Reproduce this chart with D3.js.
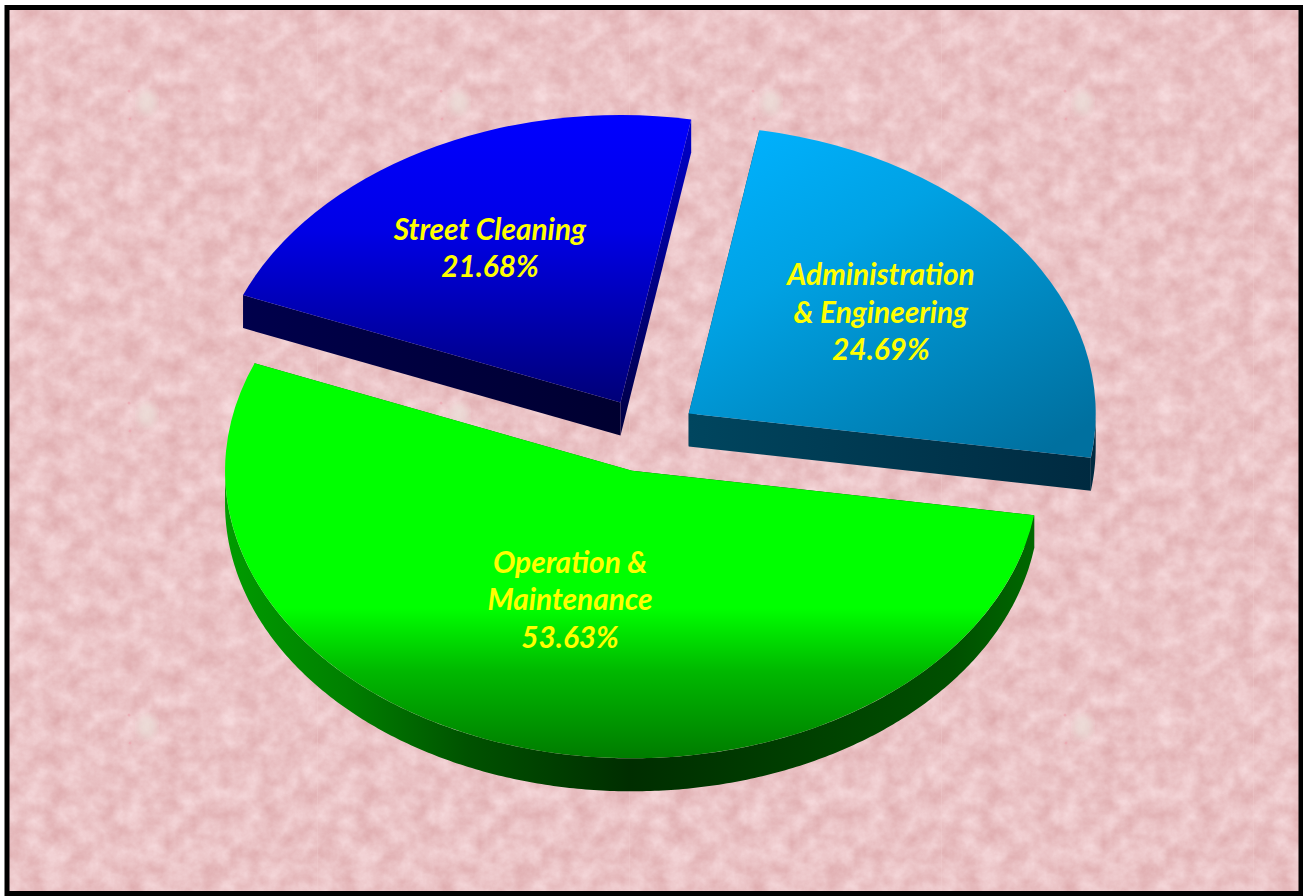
<!DOCTYPE html>
<html>
<head>
<meta charset="utf-8">
<title>Expenditure shares</title>
<script src="https://cdn.jsdelivr.net/npm/d3@7/dist/d3.min.js"></script>
<style>
  html, body { margin: 0; padding: 0; background: #fff; }
  svg { display: block; }
  text { font-family: Lato, "Open Sans", sans-serif; font-weight: 700; font-style: italic; font-size: 29.8px; fill: #ffff00; text-anchor: middle; }
</style>
</head>
<body>
<svg id="chart" width="1303" height="896"></svg>
<script>
// Slice data, clockwise from the first slice
const categories = ["Administration & Engineering", "Operation & Maintenance", "Street Cleaning"];
const labelLines = [["Administration", "& Engineering"], ["Operation &", "Maintenance"], ["Street Cleaning"]];
const shares = [24.69, 53.63, 21.68];

// Projection of the tilted pie
const centre = { x: 646, y: 435 };
const radius = 407, tilt = 0.7065, depth = 33, explode = 52.5;
const firstAngle = 10 * Math.PI / 180;
const labelReach = [0.588, 0.475, 0.625];
const labelBearing = [53.4, 198.7, 329.1];
const lineGap = 37.5;

const sliceStyles = [
  { top: "gradAdmin", wall: "gradAdminRim", sideStart: "#003049", sideEnd: "gradAdminFront" },
  { top: "gradOps", wall: "gradOpsWall", sideStart: "#003000", sideEnd: "#006400" },
  { top: "gradStreet", wall: "#000040", sideStart: "gradStreetEdge", sideEnd: "gradStreetFront" }
];

const svg = d3.select("#chart");
const defs = svg.append("defs");

function addGradient(id, coords, stops) {
  const g = defs.append("linearGradient").attr("id", id).attr("x1", coords[0]).attr("y1", coords[1]).attr("x2", coords[2]).attr("y2", coords[3]);
  stops.forEach(s => g.append("stop").attr("offset", s[0]).attr("stop-color", s[1]));
}
addGradient("gradAdmin", [0.1, 0, 0.85, 1], [[0, "#00b2ff"], [0.35, "#00a2e4"], [1, "#00709f"]]);
addGradient("gradAdminFront", [0, 0, 1, 0], [[0, "#00465f"], [1, "#002a40"]]);
addGradient("gradAdminRim", [0, 0, 1, 0], [[0, "#002a40"], [1, "#002a40"]]);
addGradient("gradOps", [0, 0, 0, 1], [[0, "#00ff00"], [0.62, "#00ff00"], [0.78, "#00b800"], [1, "#007c00"]]);
addGradient("gradOpsWall", [0, 0, 1, 0], [[0, "#009c00"], [0.15, "#008000"], [0.3, "#005200"], [0.5, "#002e00"], [0.72, "#004000"], [0.9, "#005000"], [1, "#006800"]]);
addGradient("gradStreet", [0, 0, 0, 1], [[0, "#0000ff"], [0.4, "#0000e6"], [1, "#000078"]]);
addGradient("gradStreetFront", [0, 0, 0, 1], [[0, "#0000cc"], [1, "#000040"]]);
addGradient("gradStreetEdge", [0, 0, 1, 0], [[0, "#00004c"], [1, "#000030"]]);

// Mottled paper tile for the page background
const tileSize = 312;
const paper = defs.append("filter").attr("id", "paper")
  .attr("x", 0).attr("y", 0).attr("width", 1).attr("height", 1)
  .attr("color-interpolation-filters", "sRGB");
paper.append("feTurbulence").attr("type", "fractalNoise").attr("baseFrequency", 0.05)
  .attr("numOctaves", 5).attr("seed", 11).attr("stitchTiles", "stitch");
paper.append("feColorMatrix").attr("type", "matrix")
  .attr("values", "0.11 0 0 0 0.865  0.22 0 0 0 0.655  0.22 0 0 0 0.665  0 0 0 0 1");
defs.append("filter").attr("id", "soft").append("feGaussianBlur").attr("stdDeviation", 3);

const tile = defs.append("pattern").attr("id", "paperTile").attr("patternUnits", "userSpaceOnUse")
  .attr("x", 6).attr("y", 6).attr("width", tileSize).attr("height", tileSize);
tile.append("rect").attr("width", tileSize).attr("height", tileSize).attr("filter", "url(#paper)");
tile.append("ellipse").attr("cx", 141).attr("cy", 97).attr("rx", 10).attr("ry", 12)
  .attr("fill", "#ece2dc").attr("opacity", 0.7).attr("filter", "url(#soft)");
tile.append("circle").attr("cx", 123).attr("cy", 85).attr("r", 1.5).attr("fill", "#ee9aa8").attr("opacity", 0.5);
tile.append("circle").attr("cx", 124).attr("cy", 113).attr("r", 1.5).attr("fill", "#ee9aa8").attr("opacity", 0.5);
tile.append("rect").attr("x", tileSize - 1).attr("width", 1).attr("height", tileSize).attr("fill", "#f3d3d3").attr("opacity", 0.3);

svg.append("rect").attr("x", 7).attr("y", 7.5).attr("width", 1294).attr("height", 886)
  .attr("fill", "url(#paperTile)").attr("stroke", "#000").attr("stroke-width", 5);

// Angles come from the shares, positions from the projection below
const pie = d3.pie().sort(null).startAngle(firstAngle).endAngle(firstAngle + 2 * Math.PI);
const slices = pie(shares);
const sx = d3.scaleLinear().domain([-1, 1]).range([-radius, radius]);
const sy = d3.scaleLinear().domain([-1, 1]).range([-radius * tilt, radius * tilt]);
const arc = d3.arc().innerRadius(0).outerRadius(radius);
const line = d3.line();

function apexOf(s) {
  const mid = (s.startAngle + s.endAngle) / 2;
  return [centre.x + sx(Math.sin(mid)) * explode / radius, centre.y + sy(-Math.cos(mid)) * explode / radius];
}
function rimPoint(apex, a, drop) {
  return [apex[0] + sx(Math.sin(a)), apex[1] + sy(-Math.cos(a)) + drop];
}

const groups = svg.selectAll("g.slice").data(slices).join("g").attr("class", "slice");

groups.each(function (s, i) {
  const g = d3.select(this);
  const style = sliceStyles[i];
  const fillOf = v => v.startsWith("#") ? v : `url(#${v})`;
  const apex = apexOf(s);

  // Cut faces reaching from the apex to each end of the rim
  [[s.startAngle, style.sideStart], [s.endAngle, style.sideEnd]].forEach(([a, fill]) => {
    const p = rimPoint(apex, a, 0), q = rimPoint(apex, a, depth);
    g.append("path").attr("d", line([apex, p, q, [apex[0], apex[1] + depth]]) + "Z").attr("fill", fillOf(fill));
  });

  // Outer wall: only the front half of the rim faces the viewer
  const from = Math.max(s.startAngle, Math.PI / 2), to = Math.min(s.endAngle, 3 * Math.PI / 2);
  if (to > from) {
    const angles = d3.range(from, to, 0.01).concat([to]);
    const upper = angles.map(a => rimPoint(apex, a, 0));
    const lower = angles.map(a => rimPoint(apex, a, depth)).reverse();
    g.append("path").attr("d", line(upper.concat(lower)) + "Z").attr("fill", fillOf(style.wall));
  }

  // Top surface: a flat wedge squashed by the tilt
  g.append("path").attr("d", arc(s))
    .attr("transform", `translate(${apex[0]},${apex[1]}) scale(1,${tilt})`)
    .attr("fill", fillOf(style.top));

  // Label block placed by reach and bearing from the slice's apex
  const bearing = labelBearing[i] * Math.PI / 180;
  const lx = apex[0] + sx(Math.sin(bearing)) * labelReach[i];
  const ly = apex[1] + sy(-Math.cos(bearing)) * labelReach[i];
  const rows = labelLines[i].concat([shares[i].toFixed(2) + "%"]);
  const text = g.append("text").attr("aria-label", categories[i]);
  rows.forEach((row, r) => {
    text.append("tspan").attr("x", lx).attr("y", ly + 10 + (r - (rows.length - 1) / 2) * lineGap).text(row);
  });
});
</script>
</body>
</html>
